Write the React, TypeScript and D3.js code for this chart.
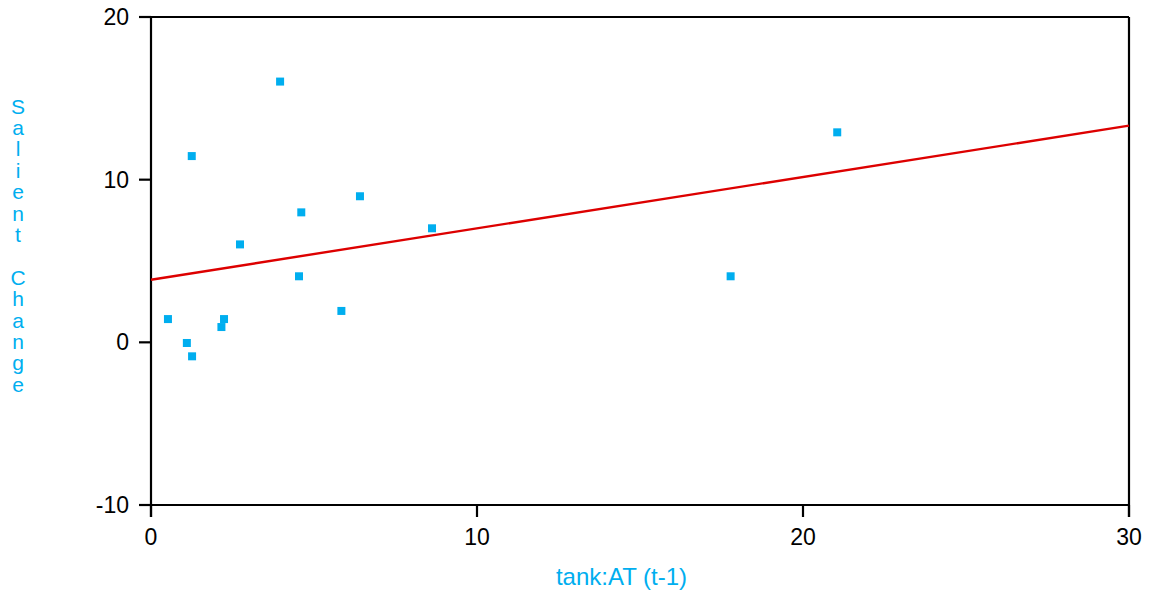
import React from "react";
import * as d3 from "d3";

const xValues = [0.52, 1.1, 1.26, 1.25, 2.16, 2.24, 2.73, 3.96, 4.54, 4.61, 5.84, 6.41, 8.62, 17.78, 21.05];
const yValues = [1.43, -0.04, -0.86, 11.45, 0.94, 1.43, 6.02, 16.03, 4.06, 7.99, 1.93, 8.98, 7.01, 4.06, 12.91];
const fitIntercept = 3.85;
const fitSlope = 0.3157;
const xTicks = [0, 10, 20, 30];
const yTicks = [-10, 0, 10, 20];
const xLabel = "tank:AT (t-1)";
const yLabel = "Salient Change";

const W = 1149;
const H = 591;
const L = 151, R = 1129, T = 17, B = 505;

export default function App() {
  const x = d3.scaleLinear().domain([0, 30]).range([L, R]);
  const y = d3.scaleLinear().domain([-10, 20]).range([B, T]);
  const font = "Liberation Sans, Arial, sans-serif";
  const blue = "#00aeef";
  const line = d3.line<number>().x((d) => x(d)).y((d) => y(fitIntercept + fitSlope * d));
  const letters = yLabel.split("");
  return (
    <svg width={W} height={H} style={{ position: "absolute", left: 0, top: 0, background: "#fff" }}>
      <rect x={0} y={0} width={W} height={H} fill="#fff" />
      <g stroke="#000" strokeWidth={2.2} fill="none">
        <line x1={L - 12} y1={T} x2={R} y2={T} />
        <line x1={L - 12} y1={B} x2={R} y2={B} />
        <line x1={L} y1={T} x2={L} y2={B + 12} />
        <line x1={R} y1={T} x2={R} y2={B + 12} />
        {yTicks.map((t) => (
          <line key={"yt" + t} x1={L - 12} x2={L} y1={y(t)} y2={y(t)} />
        ))}
        {xTicks.map((t) => (
          <line key={"xt" + t} x1={x(t)} x2={x(t)} y1={B} y2={B + 12} />
        ))}
      </g>
      {yTicks.map((t) => (
        <text key={"yl" + t} x={L - 22} y={y(t) + 8} textAnchor="end" fontFamily={font} fontSize={23} fill="#000">
          {t}
        </text>
      ))}
      {xTicks.map((t) => (
        <text key={"xl" + t} x={x(t)} y={545} textAnchor="middle" fontFamily={font} fontSize={23} fill="#000">
          {t}
        </text>
      ))}
      <path d={line([0, 30]) || ""} stroke="#dd0000" strokeWidth={2.4} fill="none" />
      {xValues.map((xv, i) => (
        <rect key={"p" + i} x={x(xv) - 4} y={y(yValues[i]) - 4} width={8} height={8} fill={blue} />
      ))}
      <text x={621.5} y={585} textAnchor="middle" fontFamily={font} fontSize={24} fill={blue}>
        {xLabel}
      </text>
      {letters.map((c, i) =>
        c === " " ? null : (
          <text key={"yc" + i} x={18} y={106 + i * 21.4 + 7.5} textAnchor="middle" fontFamily={font} fontSize={21} fill={blue}>
            {c}
          </text>
        )
      )}
    </svg>
  );
}
